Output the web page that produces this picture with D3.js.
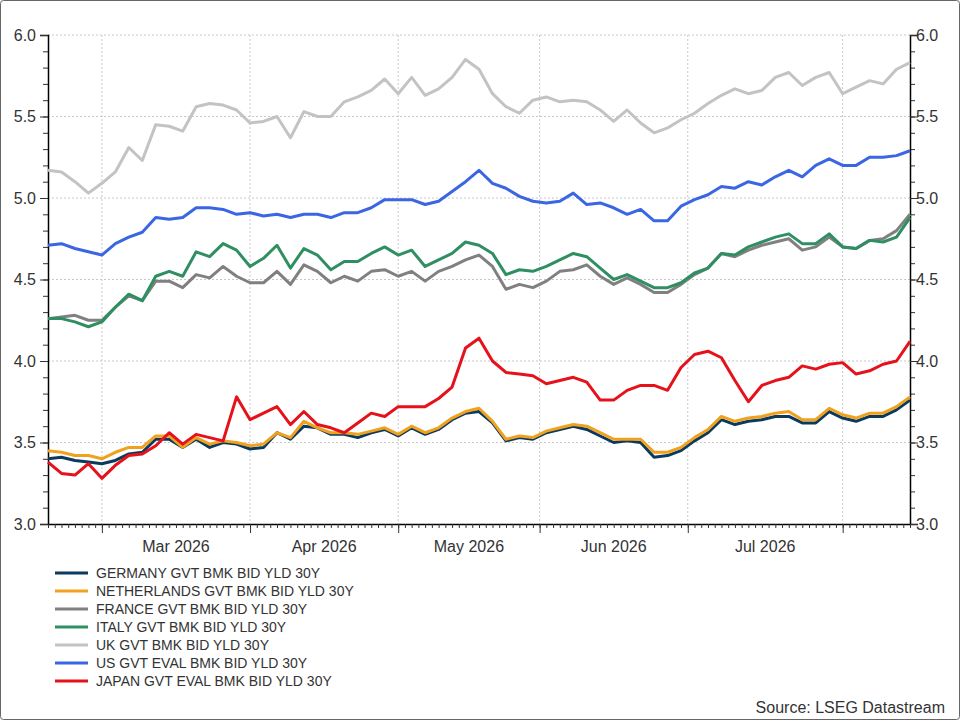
<!DOCTYPE html>
<html>
<head>
<meta charset="utf-8">
<script src="https://cdn.jsdelivr.net/npm/d3@7"></script>
<style>
  body { margin: 0; background: #fff; }
  text { font-family: "Liberation Sans", Arial, sans-serif; fill: #333; }
</style>
</head>
<body>
<svg id="chart" width="960" height="720"></svg>
<script>
// business-day index of each sample (every 2nd trading day, 18 Feb .. 14 Aug 2026)
const days = d3.range(0, 129, 2);
const monthStarts = [8, 30, 52, 73, 95, 118];
const monthLabels = ['Mar 2026', 'Apr 2026', 'May 2026', 'Jun 2026', 'Jul 2026'];
const yTicks = [3.0, 3.5, 4.0, 4.5, 5.0, 5.5, 6.0];

const germany = [3.40,3.41,3.39,3.38,3.37,3.39,3.43,3.44,3.52,3.52,3.47,3.52,3.47,3.50,3.49,3.46,3.47,3.56,3.52,3.60,3.59,3.55,3.55,3.53,3.56,3.58,3.54,3.59,3.55,3.58,3.64,3.68,3.69,3.62,3.51,3.53,3.52,3.56,3.58,3.60,3.58,3.54,3.50,3.51,3.50,3.41,3.42,3.45,3.51,3.56,3.64,3.61,3.63,3.64,3.66,3.66,3.62,3.62,3.69,3.65,3.63,3.66,3.66,3.70,3.76];
const netherlands = [3.45,3.44,3.42,3.42,3.40,3.44,3.47,3.47,3.54,3.54,3.47,3.53,3.49,3.51,3.50,3.48,3.49,3.56,3.53,3.63,3.59,3.56,3.56,3.55,3.57,3.59,3.55,3.60,3.56,3.59,3.65,3.69,3.71,3.63,3.52,3.54,3.53,3.57,3.59,3.61,3.60,3.56,3.52,3.52,3.52,3.44,3.44,3.47,3.53,3.58,3.66,3.63,3.65,3.66,3.68,3.69,3.64,3.64,3.71,3.67,3.65,3.68,3.68,3.72,3.78];
const france = [4.26,4.27,4.28,4.25,4.25,4.33,4.40,4.37,4.49,4.49,4.45,4.53,4.51,4.58,4.52,4.48,4.48,4.55,4.47,4.59,4.55,4.48,4.52,4.49,4.55,4.56,4.52,4.55,4.49,4.55,4.58,4.62,4.65,4.58,4.44,4.47,4.45,4.49,4.55,4.56,4.59,4.52,4.47,4.51,4.47,4.42,4.42,4.47,4.53,4.57,4.66,4.64,4.68,4.71,4.73,4.75,4.68,4.70,4.76,4.70,4.69,4.74,4.75,4.80,4.90];
const italy = [4.26,4.26,4.24,4.21,4.24,4.33,4.41,4.37,4.52,4.55,4.52,4.67,4.64,4.72,4.68,4.58,4.63,4.71,4.57,4.69,4.65,4.56,4.61,4.61,4.66,4.70,4.65,4.68,4.58,4.62,4.66,4.73,4.71,4.66,4.53,4.56,4.55,4.58,4.62,4.66,4.64,4.57,4.50,4.53,4.49,4.45,4.45,4.48,4.54,4.57,4.66,4.65,4.70,4.73,4.76,4.78,4.72,4.72,4.78,4.70,4.69,4.74,4.73,4.76,4.88];
const uk = [5.17,5.16,5.10,5.03,5.09,5.16,5.31,5.23,5.45,5.44,5.41,5.56,5.58,5.57,5.54,5.46,5.47,5.50,5.37,5.53,5.50,5.50,5.59,5.62,5.66,5.73,5.64,5.74,5.63,5.67,5.74,5.85,5.79,5.64,5.56,5.52,5.60,5.62,5.59,5.60,5.59,5.54,5.47,5.54,5.46,5.40,5.43,5.48,5.52,5.58,5.63,5.67,5.64,5.66,5.74,5.77,5.69,5.74,5.77,5.64,5.68,5.72,5.70,5.79,5.83];
const us = [4.71,4.72,4.69,4.67,4.65,4.72,4.76,4.79,4.88,4.87,4.88,4.94,4.94,4.93,4.90,4.91,4.89,4.90,4.88,4.90,4.90,4.88,4.91,4.91,4.94,4.99,4.99,4.99,4.96,4.98,5.04,5.10,5.17,5.09,5.06,5.01,4.98,4.97,4.98,5.03,4.96,4.97,4.94,4.90,4.93,4.86,4.86,4.95,4.99,5.02,5.07,5.06,5.10,5.08,5.13,5.17,5.13,5.20,5.24,5.20,5.20,5.25,5.25,5.26,5.29];
const japan = [3.38,3.31,3.30,3.37,3.28,3.36,3.42,3.43,3.48,3.56,3.49,3.55,3.53,3.51,3.78,3.64,3.68,3.72,3.61,3.69,3.61,3.59,3.56,3.62,3.68,3.66,3.72,3.72,3.72,3.77,3.84,4.08,4.14,4.00,3.93,3.92,3.91,3.86,3.88,3.90,3.87,3.76,3.76,3.82,3.85,3.85,3.82,3.96,4.04,4.06,4.02,3.88,3.75,3.85,3.88,3.90,3.97,3.95,3.98,3.99,3.92,3.94,3.98,4.00,4.12];

const series = [
  {name: 'GERMANY GVT BMK BID YLD 30Y', values: germany, color: '#0b3a5f'},
  {name: 'NETHERLANDS GVT BMK BID YLD 30Y', values: netherlands, color: '#f0a11e'},
  {name: 'FRANCE GVT BMK BID YLD 30Y', values: france, color: '#808080'},
  {name: 'ITALY GVT BMK BID YLD 30Y', values: italy, color: '#2f8f62'},
  {name: 'UK GVT BMK BID YLD 30Y', values: uk, color: '#c3c3c3'},
  {name: 'US GVT EVAL BMK BID YLD 30Y', values: us, color: '#3a66e3'},
  {name: 'JAPAN GVT EVAL BMK BID YLD 30Y', values: japan, color: '#e5121b'}
];

const plot = {left: 48, right: 910, top: 35, bottom: 524};
const x = d3.scaleLinear().domain([0, 128]).range([plot.left, plot.right]);
const y = d3.scaleLinear().domain([3, 6]).range([plot.bottom, plot.top]);

const svg = d3.select('#chart');

svg.append('rect')
  .attr('x', 0.5).attr('y', 0.5).attr('width', 959).attr('height', 719)
  .attr('fill', 'none').attr('stroke', '#666').attr('rx', 3);

// grid
svg.append('g').selectAll('line').data(yTicks.slice(1)).join('line')
  .attr('x1', plot.left).attr('x2', plot.right)
  .attr('y1', d => y(d)).attr('y2', d => y(d))
  .attr('stroke', '#c8c8c8').attr('stroke-dasharray', '2,2');
svg.append('g').selectAll('line').data(monthStarts).join('line')
  .attr('x1', d => x(d)).attr('x2', d => x(d))
  .attr('y1', plot.top).attr('y2', plot.bottom)
  .attr('stroke', '#c8c8c8').attr('stroke-dasharray', '2,2');

// y axes
const yMinor = d3.range(30, 61).map(d => d / 10);
svg.append('g')
  .attr('transform', `translate(${plot.left},0)`)
  .call(d3.axisLeft(y).tickValues(yMinor).tickSize(5).tickFormat(''))
  .call(g => g.select('.domain').remove());
svg.append('g')
  .attr('transform', `translate(${plot.right},0)`)
  .call(d3.axisRight(y).tickValues(yMinor).tickSize(5).tickFormat(''))
  .call(g => g.select('.domain').remove());
svg.append('g')
  .attr('transform', `translate(${plot.left},0)`)
  .call(d3.axisLeft(y).tickValues(yTicks).tickSize(8).tickFormat(d3.format('.1f')))
  .call(g => g.selectAll('text').attr('font-size', 16).attr('x', -12).attr('fill', '#333'))
  .call(g => g.select('.domain').attr('stroke-width', 1.5));
svg.append('g')
  .attr('transform', `translate(${plot.right},0)`)
  .call(d3.axisRight(y).tickValues(yTicks).tickSize(8).tickFormat(d3.format('.1f')))
  .call(g => g.selectAll('text').attr('font-size', 16).attr('x', 6).attr('fill', '#333'))
  .call(g => g.select('.domain').attr('stroke-width', 1.5));

// x axis: daily minor ticks, month major ticks
svg.append('g')
  .attr('transform', `translate(0,${plot.bottom})`)
  .call(d3.axisBottom(x).tickValues(d3.range(0, 129)).tickSize(4).tickFormat('').tickSizeOuter(0))
  .call(g => g.select('.domain').attr('stroke-width', 1.5));
svg.append('g')
  .attr('transform', `translate(0,${plot.bottom})`)
  .call(d3.axisBottom(x).tickValues(monthStarts).tickSize(9).tickFormat(''))
  .call(g => g.select('.domain').remove());
svg.selectAll('.tick line').attr('stroke', '#333');
svg.append('g').selectAll('text').data(monthLabels).join('text')
  .attr('x', (d, i) => x((monthStarts[i] + monthStarts[i + 1]) / 2))
  .attr('y', 552)
  .attr('text-anchor', 'middle')
  .attr('font-size', 16)
  .text(d => d);

// lines
const line = d3.line().x((d, i) => x(days[i])).y(d => y(d));
svg.append('g').selectAll('path').data(series).join('path')
  .attr('d', d => line(d.values))
  .attr('fill', 'none')
  .attr('stroke', d => d.color)
  .attr('stroke-width', 3)
  .attr('stroke-linejoin', 'round');

// legend
const legend = svg.append('g').selectAll('g').data(series).join('g')
  .attr('transform', (d, i) => `translate(55,${573 + i * 18})`);
legend.append('line')
  .attr('x1', 0).attr('x2', 33)
  .attr('stroke', d => d.color).attr('stroke-width', 3);
legend.append('text')
  .attr('x', 41).attr('y', 5)
  .attr('font-size', 14)
  .text(d => d.name);

svg.append('text')
  .attr('x', 945).attr('y', 713)
  .attr('text-anchor', 'end')
  .attr('font-size', 16)
  .text('Source: LSEG Datastream');
</script>
</body>
</html>
